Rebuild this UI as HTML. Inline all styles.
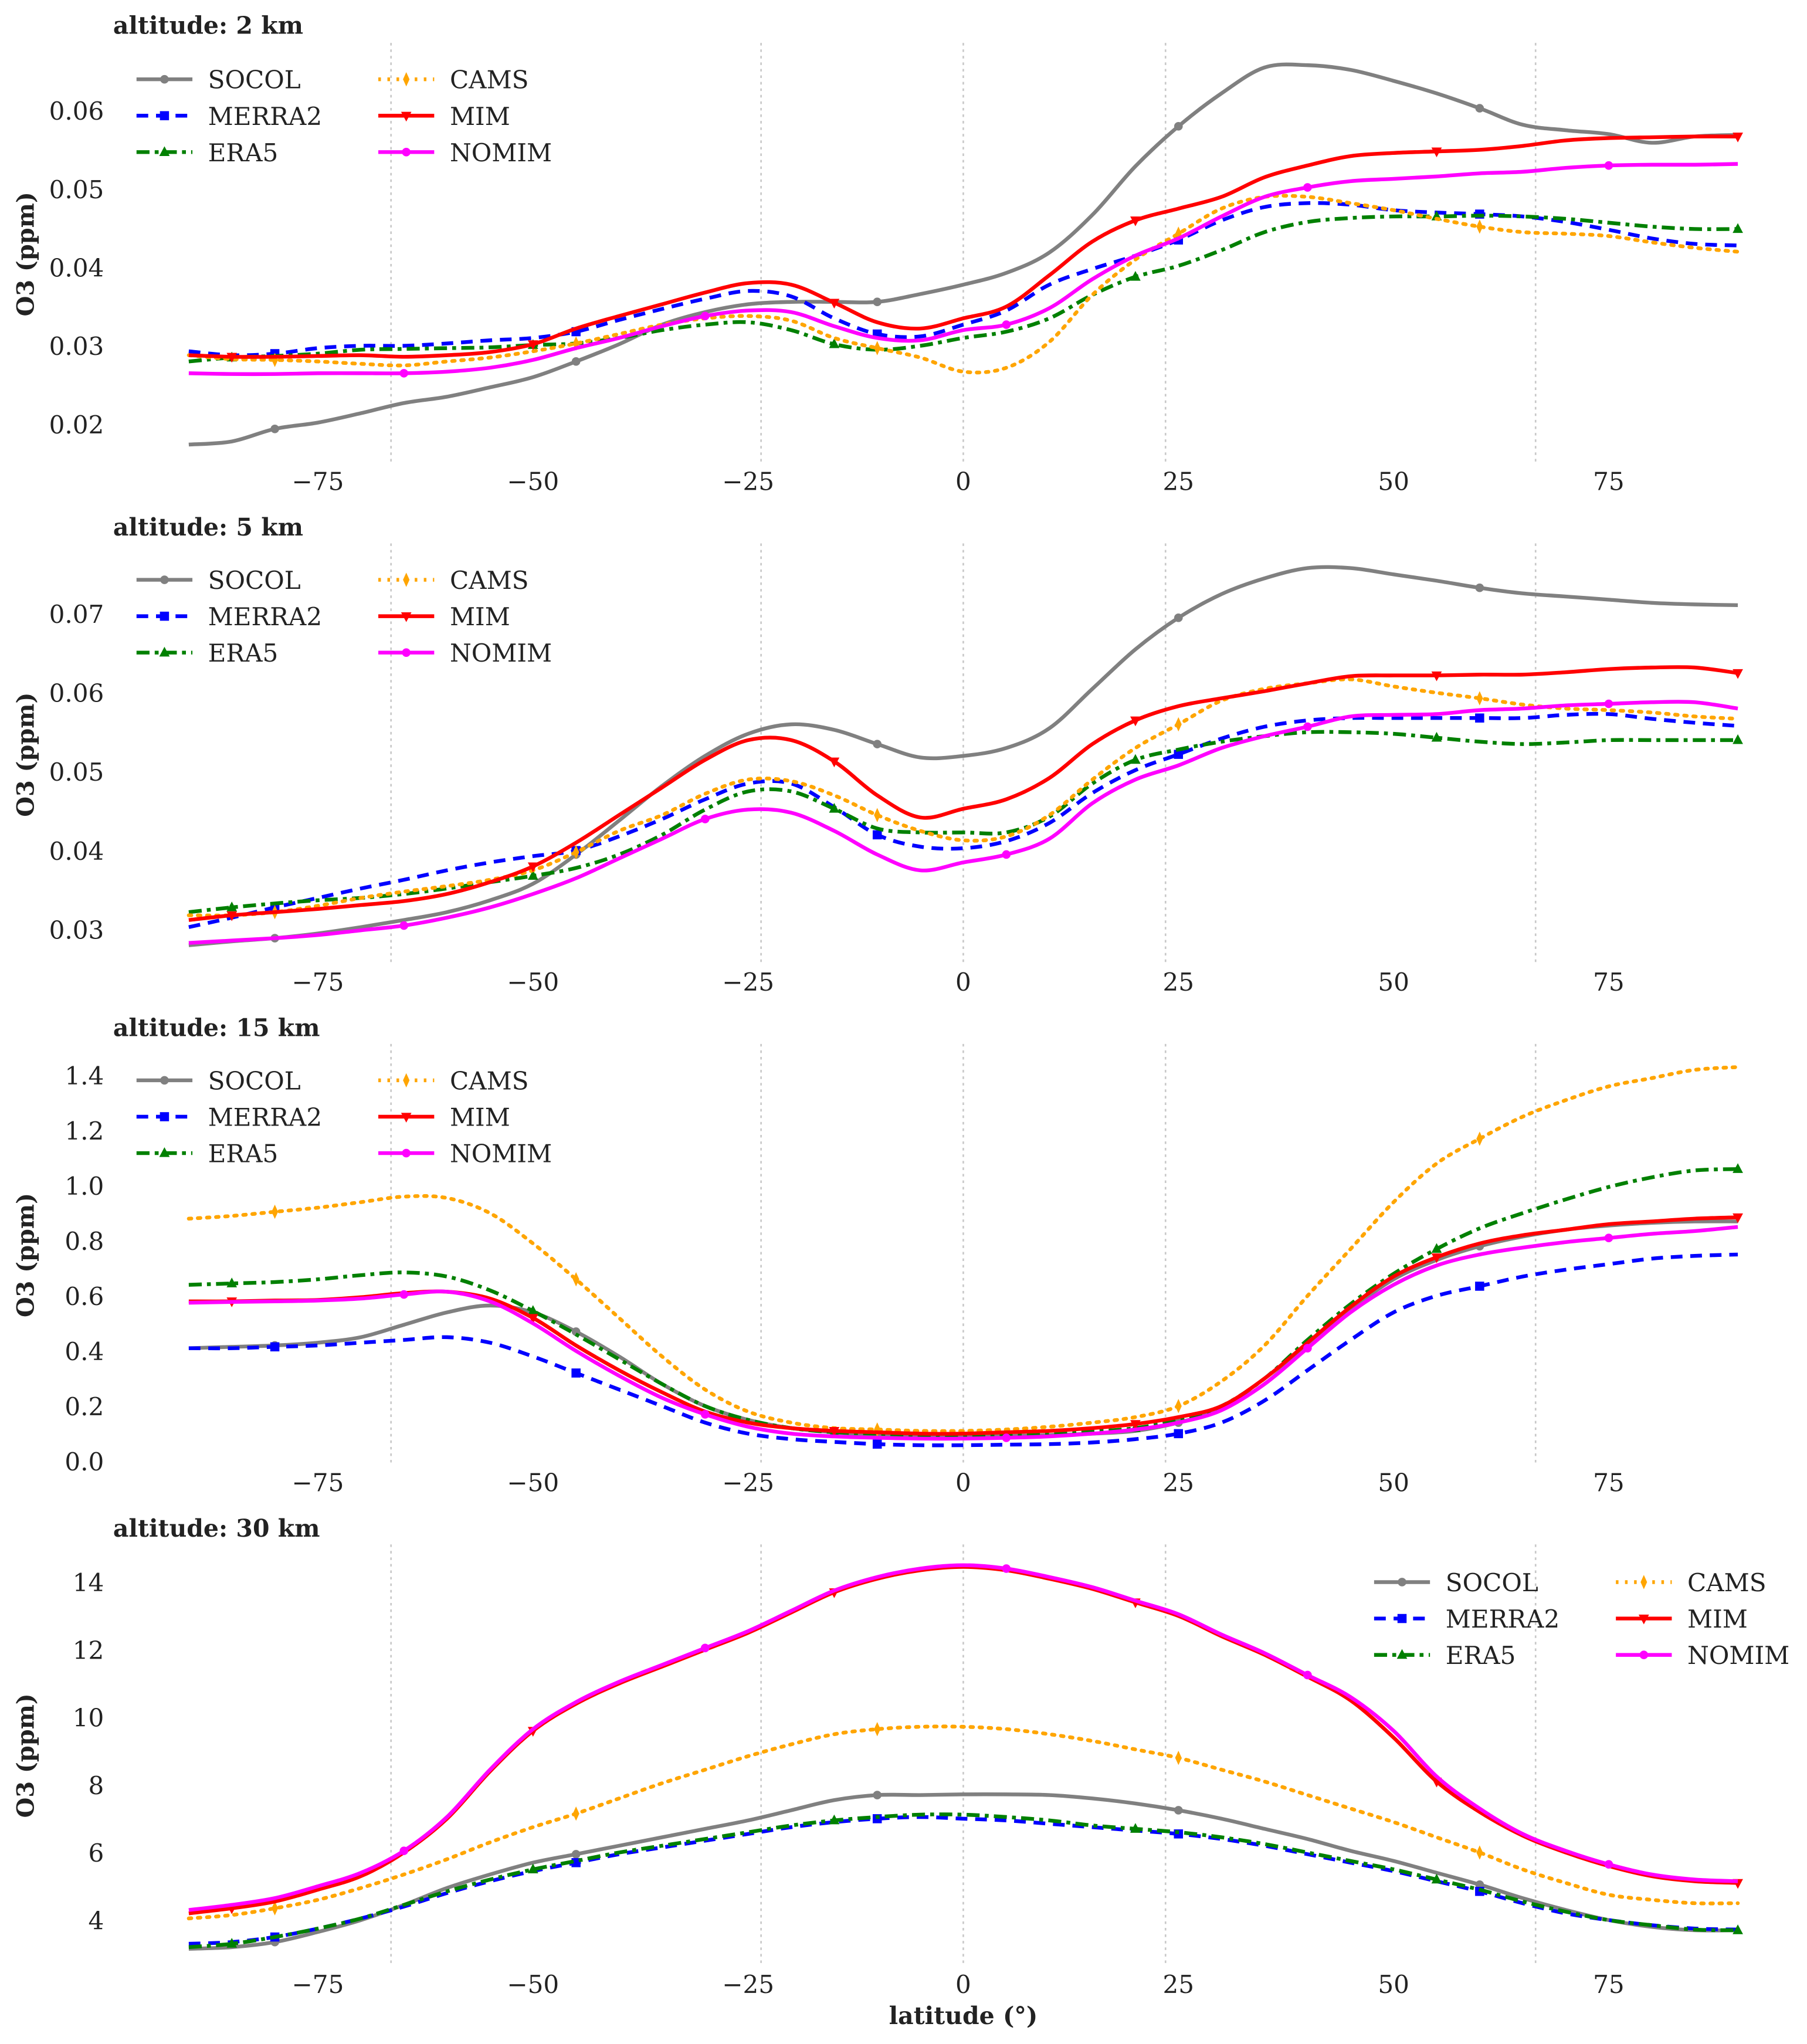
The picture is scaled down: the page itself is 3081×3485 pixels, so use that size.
<!DOCTYPE html>
<html><head><meta charset="utf-8"><style>
html,body{margin:0;padding:0;background:#fff}
svg{display:block}
text{font-family:"DejaVu Serif","Liberation Serif",serif;fill:#222}
</style></head><body>
<svg id="chart" xmlns="http://www.w3.org/2000/svg" width="3081" height="3485" viewBox="0 0 1390 1572.3"></svg>
<script>
const lats = [-90,-85,-80,-75,-70,-65,-60,-55,-50,-45,-40,-35,-30,-25,-20,-15,-10,-5,0,5,10,15,20,25,30,35,40,45,50,55,60,65,70,75,80,85,90];
const seriesNames = ["SOCOL","MERRA2","ERA5","CAMS","MIM","NOMIM"];
const p1SOCOL=[0.0174,0.0178,0.0194,0.0202,0.0214,0.0227,0.0235,0.0247,0.026,0.028,0.0302,0.0327,0.0343,0.0353,0.0356,0.0356,0.0356,0.0366,0.0378,0.0393,0.0419,0.0467,0.0529,0.058,0.0622,0.0655,0.0658,0.0652,0.0638,0.0622,0.0603,0.0582,0.0575,0.057,0.0559,0.0567,0.0569];
const p1MERRA2=[0.0293,0.0288,0.029,0.0297,0.03,0.03,0.0303,0.0307,0.031,0.0318,0.0333,0.0347,0.036,0.037,0.0363,0.0335,0.0315,0.0312,0.0327,0.0345,0.0378,0.0398,0.0415,0.0435,0.046,0.0477,0.0482,0.048,0.0473,0.047,0.0468,0.0465,0.0458,0.0448,0.0437,0.043,0.0428];
const p1ERA5=[0.028,0.0285,0.0287,0.029,0.0295,0.0296,0.0297,0.0298,0.0301,0.0303,0.031,0.032,0.0327,0.033,0.032,0.0302,0.0295,0.03,0.031,0.0318,0.0335,0.0365,0.0388,0.0402,0.0422,0.0445,0.0458,0.0463,0.0465,0.0465,0.0466,0.0465,0.0462,0.0457,0.0452,0.0449,0.0449];
const p1CAMS=[0.0288,0.0283,0.0282,0.028,0.0277,0.0275,0.028,0.0285,0.0293,0.0303,0.0315,0.0327,0.0335,0.0338,0.0332,0.031,0.0297,0.0285,0.0267,0.0272,0.0305,0.0365,0.041,0.0443,0.0475,0.049,0.049,0.0482,0.0473,0.0462,0.0452,0.0445,0.0443,0.044,0.0432,0.0425,0.042];
const p1MIM=[0.0288,0.0286,0.0286,0.0287,0.0288,0.0286,0.0288,0.0292,0.0302,0.0322,0.0338,0.0353,0.0368,0.038,0.0378,0.0355,0.033,0.0322,0.0335,0.035,0.039,0.0433,0.046,0.0475,0.049,0.0515,0.053,0.0542,0.0546,0.0548,0.055,0.0555,0.0562,0.0565,0.0566,0.0567,0.0567];
const p1NOMIM=[0.0265,0.0264,0.0264,0.0265,0.0265,0.0265,0.0267,0.0272,0.0282,0.0297,0.031,0.0325,0.0338,0.0345,0.0343,0.0325,0.031,0.0307,0.032,0.0327,0.0348,0.0385,0.0415,0.0437,0.0465,0.049,0.0502,0.051,0.0513,0.0516,0.052,0.0522,0.0527,0.053,0.0531,0.0531,0.0532];
const p2SOCOL=[0.028,0.0285,0.0289,0.0295,0.0303,0.0312,0.0322,0.0337,0.0358,0.0395,0.0438,0.0482,0.052,0.0548,0.056,0.0553,0.0535,0.0518,0.052,0.053,0.0555,0.0605,0.0655,0.0695,0.0725,0.0745,0.0758,0.0758,0.075,0.0742,0.0733,0.0726,0.0722,0.0718,0.0714,0.0712,0.0711];
const p2MERRA2=[0.0303,0.0315,0.0328,0.034,0.0352,0.0363,0.0375,0.0385,0.0393,0.04,0.0418,0.044,0.0465,0.0485,0.0485,0.0455,0.042,0.0405,0.0403,0.0412,0.0435,0.0473,0.0502,0.0522,0.0542,0.0557,0.0565,0.0568,0.0568,0.0568,0.0568,0.0568,0.0572,0.0573,0.0567,0.0562,0.0558];
const p2ERA5=[0.0322,0.0328,0.0333,0.0337,0.034,0.0345,0.0352,0.036,0.0368,0.0378,0.0395,0.042,0.0452,0.0475,0.0475,0.0453,0.0428,0.0423,0.0423,0.0423,0.0443,0.0485,0.0515,0.0528,0.0538,0.0545,0.055,0.055,0.0548,0.0543,0.0538,0.0535,0.0537,0.054,0.054,0.054,0.054];
const p2CAMS=[0.0318,0.0318,0.0322,0.033,0.034,0.0348,0.0355,0.0363,0.0375,0.0398,0.0425,0.0445,0.0472,0.049,0.0488,0.047,0.0445,0.0425,0.0413,0.0418,0.0445,0.049,0.053,0.056,0.059,0.0605,0.0612,0.0617,0.0608,0.06,0.0593,0.0585,0.058,0.0578,0.0575,0.057,0.0567];
const p2MIM=[0.0312,0.0318,0.0322,0.0326,0.0331,0.0336,0.0345,0.036,0.038,0.041,0.0445,0.048,0.0515,0.054,0.054,0.0513,0.047,0.0442,0.0453,0.0465,0.0492,0.0535,0.0565,0.0583,0.0593,0.0602,0.0612,0.0621,0.0622,0.0622,0.0623,0.0623,0.0626,0.063,0.0632,0.0632,0.0625];
const p2NOMIM=[0.0283,0.0286,0.0289,0.0293,0.0299,0.0305,0.0315,0.0328,0.0345,0.0365,0.039,0.0415,0.044,0.0452,0.0448,0.0425,0.0395,0.0375,0.0385,0.0395,0.0415,0.046,0.049,0.0508,0.053,0.0545,0.0557,0.057,0.0572,0.0573,0.0578,0.058,0.0584,0.0586,0.0588,0.0588,0.058];
const p3SOCOL=[0.41,0.415,0.42,0.43,0.45,0.495,0.54,0.565,0.54,0.47,0.38,0.28,0.2,0.15,0.12,0.105,0.095,0.09,0.09,0.092,0.095,0.1,0.11,0.14,0.19,0.28,0.42,0.55,0.66,0.73,0.78,0.815,0.84,0.855,0.865,0.87,0.87];
const p3MERRA2=[0.41,0.41,0.415,0.42,0.43,0.44,0.45,0.43,0.38,0.32,0.26,0.2,0.14,0.1,0.08,0.07,0.062,0.058,0.058,0.06,0.062,0.068,0.08,0.1,0.14,0.22,0.33,0.44,0.54,0.6,0.635,0.67,0.695,0.715,0.735,0.745,0.75];
const p3ERA5=[0.64,0.645,0.65,0.66,0.675,0.685,0.67,0.62,0.545,0.46,0.37,0.28,0.2,0.15,0.12,0.105,0.1,0.095,0.095,0.097,0.1,0.108,0.12,0.15,0.2,0.3,0.44,0.57,0.68,0.77,0.845,0.9,0.95,0.995,1.03,1.055,1.06];
const p3CAMS=[0.88,0.89,0.905,0.92,0.94,0.96,0.955,0.9,0.79,0.66,0.52,0.38,0.26,0.18,0.14,0.12,0.115,0.11,0.11,0.115,0.125,0.14,0.16,0.2,0.29,0.42,0.6,0.77,0.94,1.08,1.17,1.25,1.31,1.36,1.39,1.42,1.43];
const p3MIM=[0.58,0.58,0.583,0.585,0.595,0.61,0.615,0.59,0.52,0.42,0.33,0.25,0.18,0.14,0.12,0.11,0.105,0.1,0.1,0.105,0.11,0.12,0.135,0.16,0.2,0.3,0.43,0.56,0.67,0.74,0.79,0.82,0.84,0.86,0.87,0.88,0.885];
const p3NOMIM=[0.575,0.578,0.58,0.583,0.59,0.605,0.615,0.58,0.5,0.4,0.31,0.23,0.17,0.125,0.1,0.09,0.085,0.082,0.082,0.085,0.09,0.1,0.115,0.14,0.185,0.28,0.41,0.54,0.64,0.71,0.75,0.775,0.795,0.81,0.825,0.835,0.85];
const p4SOCOL=[3.15,3.2,3.35,3.65,4.0,4.45,4.95,5.35,5.7,5.95,6.2,6.45,6.7,6.95,7.25,7.55,7.7,7.7,7.72,7.72,7.7,7.6,7.45,7.25,7.0,6.7,6.4,6.05,5.75,5.4,5.05,4.65,4.3,4.0,3.8,3.7,3.7];
const p4MERRA2=[3.3,3.35,3.5,3.75,4.05,4.4,4.8,5.15,5.45,5.7,5.95,6.15,6.35,6.55,6.75,6.9,7.0,7.05,7.0,6.95,6.85,6.75,6.65,6.55,6.4,6.2,5.95,5.7,5.45,5.15,4.85,4.5,4.2,4.0,3.85,3.75,3.72];
const p4ERA5=[3.2,3.3,3.5,3.75,4.05,4.45,4.85,5.2,5.5,5.75,6.0,6.2,6.4,6.6,6.8,6.95,7.05,7.12,7.12,7.05,6.95,6.8,6.7,6.6,6.45,6.25,6.0,5.75,5.5,5.2,4.9,4.55,4.25,4.0,3.85,3.72,3.7];
const p4CAMS=[4.05,4.15,4.35,4.6,4.95,5.35,5.8,6.3,6.75,7.15,7.6,8.05,8.45,8.85,9.2,9.5,9.65,9.72,9.72,9.65,9.5,9.3,9.05,8.8,8.45,8.1,7.7,7.3,6.9,6.45,6.0,5.5,5.1,4.75,4.6,4.5,4.5];
const p4MIM=[4.2,4.35,4.55,4.9,5.3,6.0,7.0,8.4,9.6,10.4,11.0,11.5,12.0,12.5,13.1,13.7,14.1,14.35,14.45,14.35,14.1,13.8,13.4,13.0,12.4,11.85,11.2,10.5,9.4,8.1,7.2,6.5,6.0,5.6,5.3,5.15,5.1];
const p4NOMIM=[4.3,4.45,4.65,5.0,5.4,6.05,7.05,8.45,9.65,10.45,11.05,11.55,12.05,12.55,13.15,13.75,14.15,14.4,14.5,14.4,14.15,13.85,13.45,13.05,12.45,11.9,11.25,10.6,9.6,8.25,7.3,6.55,6.05,5.65,5.35,5.2,5.15];
const p1Ticks=[0.02,0.03,0.04,0.05,0.06];
const p2Ticks=[0.03,0.04,0.05,0.06,0.07];
const p3Ticks=[0,0.2,0.4,0.6,0.8,1.0,1.2,1.4];
const p4Ticks=[4,6,8,10,12,14];
const xTicks=[-75,-50,-25,0,25,50,75];
const tropicLats=[-66.5,-23.5,0,23.5,66.5];

const NS="http://www.w3.org/2000/svg";
const svg=document.getElementById('chart');
function mk(tag,attrs,parent){const e=document.createElementNS(NS,tag);for(const k in attrs)e.setAttribute(k,attrs[k]);(parent||svg).appendChild(e);return e;}
const xS=lat=>741+lat*6.62;
const styles={
 SOCOL:{c:"#808080",dash:"",m:"circle",off:2},
 MERRA2:{c:"#0000ff",dash:"9,6",m:"square",off:0},
 ERA5:{c:"#008000",dash:"10,4,3,4",m:"tri",off:1},
 CAMS:{c:"#ffa500",dash:"2,5",m:"diamond",off:0},
 MIM:{c:"#ff0000",dash:"",m:"tridown",off:1},
 NOMIM:{c:"#ff00ff",dash:"",m:"circle",off:3}
};
function marker(g,type,x,y,c){
 if(type==="circle")mk('circle',{cx:x,cy:y,r:3.3,fill:c},g);
 else if(type==="square")mk('rect',{x:x-3.5,y:y-3.5,width:7,height:7,fill:c},g);
 else if(type==="tri")mk('polygon',{points:`${x},${y-4.5} ${x-4},${y+3} ${x+4},${y+3}`,fill:c},g);
 else if(type==="tridown")mk('polygon',{points:`${x},${y+4.5} ${x-4},${y-3} ${x+4},${y-3}`,fill:c},g);
 else mk('polygon',{points:`${x},${y-5.5} ${x-2.5},${y} ${x},${y+5.5} ${x+2.5},${y}`,fill:c},g);
}
function crPath(pts){
 let d=`M${pts[0][0]},${pts[0][1]}`;
 for(let i=0;i<pts.length-1;i++){
  const p0=pts[Math.max(0,i-1)],p1=pts[i],p2=pts[i+1],p3=pts[Math.min(pts.length-1,i+2)];
  const c1x=p1[0]+(p2[0]-p0[0])/6,c1y=p1[1]+(p2[1]-p0[1])/6,c2x=p2[0]-(p3[0]-p1[0])/6,c2y=p2[1]-(p3[1]-p1[1])/6;
  d+=` C${c1x.toFixed(2)},${c1y.toFixed(2)} ${c2x.toFixed(2)},${c2y.toFixed(2)} ${p2[0]},${p2[1]}`;
 }
 return d;
}
const panels=[
 {title:"altitude: 2 km",key:"p1",series:[p1SOCOL,p1MERRA2,p1ERA5,p1CAMS,p1MIM,p1NOMIM],ticks:p1Ticks,fmt:v=>v.toFixed(2),v0:0.03,y0:266,ppu:6030,top:33,bot:358,titleY:20,xlabY:370,legX:105,legY:61},
 {title:"altitude: 5 km",key:"p2",series:[p2SOCOL,p2MERRA2,p2ERA5,p2CAMS,p2MIM,p2NOMIM],ticks:p2Ticks,fmt:v=>v.toFixed(2),v0:0.03,y0:715,ppu:6070,top:418,bot:743,titleY:406,xlabY:755,legX:105,legY:446},
 {title:"altitude: 15 km",key:"p3",series:[p3SOCOL,p3MERRA2,p3ERA5,p3CAMS,p3MIM,p3NOMIM],ticks:p3Ticks,fmt:v=>v.toFixed(1),v0:0,y0:1124,ppu:212,top:803,bot:1128,titleY:791,xlabY:1140,legX:105,legY:831},
 {title:"altitude: 30 km",key:"p4",series:[p4SOCOL,p4MERRA2,p4ERA5,p4CAMS,p4MIM,p4NOMIM],ticks:p4Ticks,fmt:v=>String(v),v0:4,y0:1477,ppu:26,top:1188,bot:1513,titleY:1176,xlabY:1526,legX:1057,legY:1217}
];
panels.forEach((P,pi)=>{
 const g=mk('g',{});
 
 
 const yS=v=>P.y0-(v-P.v0)*P.ppu;
 const t=mk('text',{x:87,y:P.titleY+6,'font-size':18.5,'font-weight':'bold'},g);t.textContent=P.title;
 
 tropicLats.forEach(l=>{const ln=mk('line',{x1:xS(l),x2:xS(l),y1:P.top,y2:P.bot,stroke:"#c8c8c8","stroke-width":1.2,"stroke-dasharray":"2,3"},g);
  });
 P.ticks.forEach(v=>{const tt=mk('text',{x:80,y:yS(v)+7,'font-size':19,'text-anchor':'end'},g);tt.textContent=P.fmt(v);
  });
 xTicks.forEach(v=>{const tt=mk('text',{x:xS(v),y:P.xlabY+7,'font-size':19,'text-anchor':'middle'},g);tt.textContent=(v<0?"\u2212"+(-v):String(v));
  });
 const yl=mk('text',{x:0,y:0,'font-size':18,'font-weight':'bold','text-anchor':'middle',transform:`translate(26,${(P.top+P.bot)/2}) rotate(-90)`},g);yl.textContent="O3 (ppm)";
 
 P.series.forEach((vals,si)=>{
  const nm=seriesNames[si],st=styles[nm];
  const sg=mk('g',{},g);
  
  const pts=vals.map((v,i)=>[+xS(lats[i]).toFixed(2),+yS(v).toFixed(2)]);
  const a={d:crPath(pts),fill:"none",stroke:st.c,"stroke-width":2.9,"stroke-linejoin":"round"};
  if(st.dash)a["stroke-dasharray"]=st.dash;
  if(nm==="CAMS")a["stroke-linecap"]="round";
  mk('path',a,sg);
  for(let i=st.off+si%2*2;i<pts.length;i+=7)marker(sg,st.m,pts[i][0],pts[i][1],st.c);
 });
 const lg=mk('g',{},g);
 
 [0,1,2,3,4,5].forEach(si=>{
  const nm=seriesNames[si],st=styles[nm];
  const col=si<3?0:1,row=si%3;
  const lx=P.legX+col*186,ly=P.legY+row*28;
  const e=mk('g',{},lg);
  
  const a={x1:lx,x2:lx+43,y1:ly,y2:ly,stroke:st.c,"stroke-width":2.9};
  if(st.dash)a["stroke-dasharray"]=st.dash;
  mk('line',a,e);
  marker(e,st.m,lx+21.5,ly,st.c);
  const tx=mk('text',{x:lx+55,y:ly+7,'font-size':19},e);tx.textContent=nm;
 });
});
const xl=mk('text',{x:741,y:1557,'font-size':18.5,'font-weight':'bold','text-anchor':'middle'});
xl.textContent="latitude (°)";


</script>
</body></html>
